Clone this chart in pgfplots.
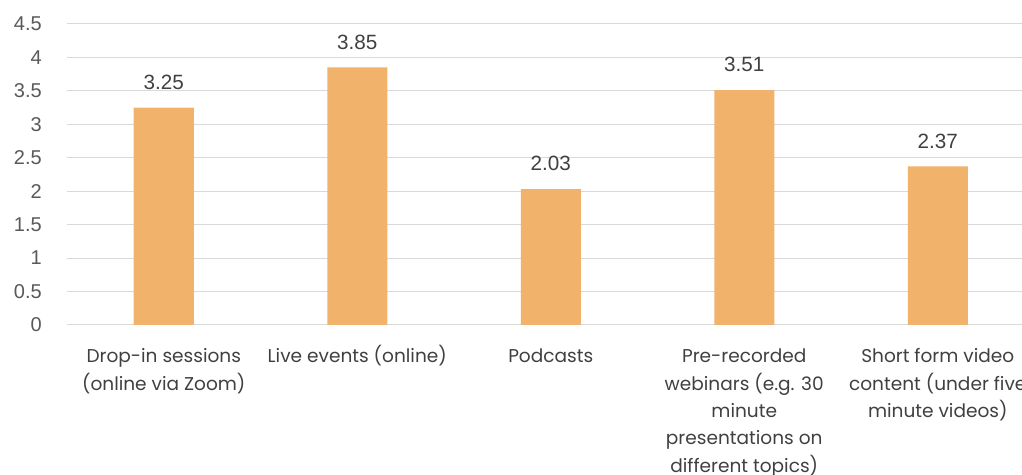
\documentclass[border=0pt]{standalone}
\usepackage{pgfplots}
\pgfplotsset{compat=1.18}
\usepackage{fontspec}
\setmainfont{Poppins}
\newfontfamily\numfont{Liberation Sans}
\definecolor{barc}{HTML}{F1B26B}
\definecolor{gridc}{HTML}{D9D9D9}
\definecolor{tickc}{HTML}{595959}
\definecolor{labc}{HTML}{404040}
\begin{document}
\begin{tikzpicture}
\path[use as bounding box] (0,0) rectangle (766.5pt,356.25pt);
\clip (0,0) rectangle (766.5pt,356.25pt);
\begin{axis}[
  at={(50.25pt,112.5pt)}, anchor=south west,
  scale only axis, width=725.625pt, height=225.75pt,
  xmin=-0.5, xmax=4.5, ymin=0, ymax=4.5,
  ytick={0,0.5,1,1.5,2,2.5,3,3.5,4,4.5},
  xtick=data,
  xticklabels={{\vphantom{()}Drop-in sessions\\(online via Zoom)},{\vphantom{()}Live events (online)},{\vphantom{()}Podcasts},{\vphantom{()}Pre-recorded\\webinars (e.g. 30\\minute\\presentations on\\different topics)},{\vphantom{()}Short form video\\content (under five\\minute videos)}},
  ymajorgrids, grid style={color=gridc, line width=0.75pt},
  axis line style={draw=none},
  major tick length=0pt,
  /pgf/number format/assume math mode=true,
  yticklabel style={font=\numfont\fontsize{15}{18}\selectfont, text=tickc, anchor=east, inner sep=0pt, xshift=-18.75pt},
  xticklabel style={font=\fontsize{13.9}{20.6}\selectfont, text=labc, anchor=north, align=center, inner sep=0pt, yshift=-15pt},
  ybar, bar width=45pt,
  nodes near coords,
  nodes near coords style={font=\numfont\fontsize{15.5}{18}\selectfont, text=labc, anchor=south, inner sep=0pt, yshift=13.5pt},
  clip=false,
]
\addplot[fill=barc, draw=none] coordinates {(0,3.25) (1,3.85) (2,2.03) (3,3.51) (4,2.37)};
\end{axis}
\end{tikzpicture}
\end{document}
